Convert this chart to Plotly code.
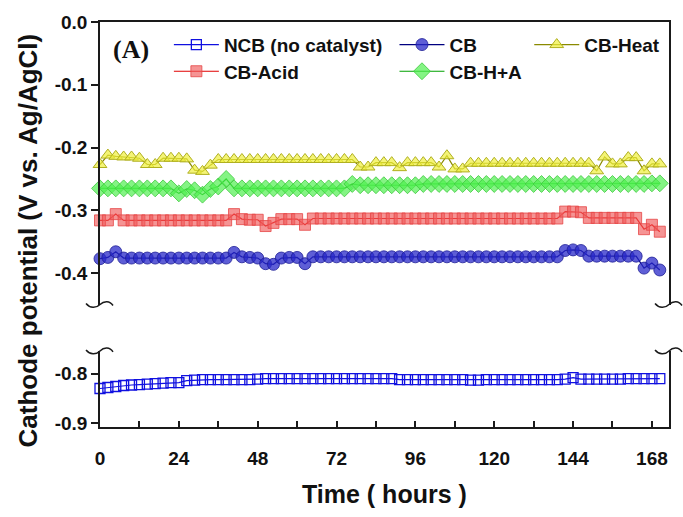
import plotly.graph_objects as go

# ---------------- data ----------------
time_h = [0, 2.4, 4.8, 7.2, 9.6, 12, 14.4, 16.8, 19.2, 21.6,
          24, 26.4, 28.8, 31.2, 33.6, 36, 38.4, 40.8, 43.2, 45.6,
          48, 50.4, 52.8, 55.2, 57.6, 60, 62.4, 64.8, 67.2, 69.6,
          72, 74.4, 76.8, 79.2, 81.6, 84, 86.4, 88.8, 91.2, 93.6,
          96, 98.4, 100.8, 103.2, 105.6, 108, 110.4, 112.8, 115.2, 117.6,
          120, 122.4, 124.8, 127.2, 129.6, 132, 134.4, 136.8, 139.2, 141.6,
          144, 146.4, 148.8, 151.2, 153.6, 156, 158.4, 160.8, 163.2, 165.6,
          168, 170.4]

ncb = [-0.830, -0.828, -0.826, -0.824, -0.823, -0.822, -0.821, -0.820, -0.819, -0.818,
       -0.818, -0.814, -0.813, -0.812, -0.812, -0.812, -0.812, -0.812, -0.812, -0.812,
       -0.811, -0.810, -0.810, -0.810, -0.810, -0.810, -0.810, -0.810, -0.810, -0.810,
       -0.810, -0.810, -0.810, -0.810, -0.810, -0.810, -0.810, -0.810, -0.812, -0.812,
       -0.812, -0.812, -0.812, -0.812, -0.812, -0.812, -0.812, -0.813, -0.813, -0.812,
       -0.812, -0.812, -0.812, -0.812, -0.812, -0.812, -0.812, -0.812, -0.812, -0.811,
       -0.808, -0.811, -0.811, -0.811, -0.811, -0.811, -0.811, -0.810, -0.810, -0.810,
       -0.810, -0.810]

cb = [-0.377, -0.375, -0.366, -0.376, -0.376, -0.376, -0.376, -0.376, -0.376, -0.376,
      -0.376, -0.376, -0.376, -0.376, -0.376, -0.376, -0.376, -0.367, -0.374, -0.375,
      -0.376, -0.385, -0.386, -0.376, -0.375, -0.375, -0.385, -0.374, -0.374, -0.374,
      -0.374, -0.374, -0.374, -0.374, -0.374, -0.374, -0.374, -0.374, -0.374, -0.374,
      -0.374, -0.374, -0.374, -0.374, -0.374, -0.374, -0.374, -0.374, -0.374, -0.374,
      -0.374, -0.374, -0.374, -0.374, -0.374, -0.374, -0.374, -0.374, -0.374, -0.364,
      -0.363, -0.364, -0.373, -0.373, -0.373, -0.373, -0.373, -0.373, -0.373, -0.392,
      -0.384, -0.395]

cb_heat = [-0.227, -0.212, -0.214, -0.215, -0.215, -0.217, -0.227, -0.227, -0.217, -0.217,
           -0.217, -0.218, -0.236, -0.238, -0.228, -0.219, -0.219, -0.219, -0.219, -0.219,
           -0.219, -0.219, -0.219, -0.219, -0.219, -0.219, -0.219, -0.219, -0.219, -0.219,
           -0.219, -0.219, -0.219, -0.231, -0.231, -0.224, -0.224, -0.224, -0.232, -0.224,
           -0.224, -0.224, -0.224, -0.231, -0.213, -0.234, -0.234, -0.225, -0.225, -0.225,
           -0.225, -0.225, -0.225, -0.225, -0.225, -0.225, -0.225, -0.225, -0.225, -0.225,
           -0.225, -0.225, -0.225, -0.237, -0.215, -0.226, -0.226, -0.216, -0.216, -0.237,
           -0.226, -0.226]

cb_acid = [-0.316, -0.316, -0.306, -0.316, -0.316, -0.316, -0.316, -0.316, -0.316, -0.316,
           -0.316, -0.316, -0.316, -0.316, -0.316, -0.316, -0.316, -0.306, -0.314, -0.315,
           -0.315, -0.325, -0.320, -0.314, -0.314, -0.314, -0.323, -0.313, -0.313, -0.313,
           -0.313, -0.313, -0.313, -0.313, -0.313, -0.313, -0.313, -0.313, -0.313, -0.313,
           -0.313, -0.313, -0.313, -0.313, -0.313, -0.313, -0.313, -0.313, -0.313, -0.313,
           -0.313, -0.313, -0.313, -0.313, -0.313, -0.313, -0.313, -0.313, -0.313, -0.302,
           -0.302, -0.303, -0.312, -0.312, -0.312, -0.312, -0.312, -0.312, -0.312, -0.330,
           -0.323, -0.334]

cb_ha = [-0.265, -0.265, -0.265, -0.265, -0.265, -0.265, -0.265, -0.265, -0.265, -0.265,
         -0.273, -0.266, -0.268, -0.275, -0.266, -0.262, -0.250, -0.265, -0.265, -0.265,
         -0.265, -0.265, -0.265, -0.265, -0.265, -0.265, -0.265, -0.265, -0.265, -0.265,
         -0.265, -0.265, -0.258, -0.260, -0.260, -0.260, -0.260, -0.260, -0.260, -0.260,
         -0.260, -0.258, -0.258, -0.258, -0.258, -0.258, -0.258, -0.258, -0.258, -0.258,
         -0.258, -0.258, -0.258, -0.258, -0.258, -0.258, -0.258, -0.258, -0.258, -0.258,
         -0.258, -0.258, -0.258, -0.258, -0.258, -0.258, -0.258, -0.258, -0.258, -0.258,
         -0.257, -0.257]

x_tickvals = [0, 24, 48, 72, 96, 120, 144, 168]
x_ticktext = ["0", "24", "48", "72", "96", "120", "144", "168"]
top_tickvals = [0.0, -0.1, -0.2, -0.3, -0.4]
top_ticktext = ["0.0", "-0.1", "-0.2", "-0.3", "-0.4"]
bot_tickvals = [-0.8, -0.9]
bot_ticktext = ["-0.8", "-0.9"]

# ---------------- layout geometry ----------------
W, H = 683, 517
L, R, T, B = 100, 13, 17, 90
PW = W - L - R
PH = H - T - B


def px_x(px):
    return (px - L) / PW


def px_y(py):
    return (H - B - py) / PH


FONT = "Liberation Sans, Arial, sans-serif"
AX = "#1a1a1a"

fig = go.Figure()

fig.add_trace(go.Scatter(
    x=time_h, y=ncb, name="NCB (no catalyst)", xaxis="x", yaxis="y",
    mode="lines+markers", cliponaxis=False, legend="legend",
    line=dict(color="#1010e0", width=1.2),
    marker=dict(symbol="square-open", size=10, color="#1010e0", line=dict(width=1.3))))

fig.add_trace(go.Scatter(
    x=time_h, y=cb, name="CB", xaxis="x2", yaxis="y2",
    mode="lines+markers", cliponaxis=False, legend="legend2",
    line=dict(color="#000080", width=1.2),
    marker=dict(symbol="circle", size=12, color="rgba(40,40,200,0.75)",
                line=dict(color="rgba(30,30,150,0.8)", width=1))))

fig.add_trace(go.Scatter(
    x=time_h, y=cb_heat, name="CB-Heat", xaxis="x2", yaxis="y2",
    mode="lines+markers", cliponaxis=False, legend="legend3",
    line=dict(color="#8a8a00", width=1.2),
    marker=dict(symbol="triangle-up", size=12, color="rgba(240,240,60,0.7)",
                line=dict(color="#b0b020", width=1))))

fig.add_trace(go.Scatter(
    x=time_h, y=cb_acid, name="CB-Acid", xaxis="x2", yaxis="y2",
    mode="lines+markers", cliponaxis=False, legend="legend4",
    line=dict(color="#e00000", width=1.2),
    marker=dict(symbol="square", size=11, color="rgba(240,90,90,0.65)",
                line=dict(color="rgba(230,70,70,0.8)", width=1))))

fig.add_trace(go.Scatter(
    x=time_h, y=cb_ha, name="CB-H+A", xaxis="x2", yaxis="y2",
    mode="lines+markers", cliponaxis=False, legend="legend5",
    line=dict(color="#00a000", width=1.2),
    marker=dict(symbol="diamond", size=13, color="rgba(80,240,80,0.7)",
                line=dict(color="rgba(60,200,60,0.8)", width=1))))

tickfont = dict(family=FONT, size=19, color="#111", weight="bold")

xr = [0, 173.2]
top_dom = [px_y(303), 1.0]
bot_dom = [0.0, px_y(350)]

fig.update_layout(
    width=W, height=H,
    margin=dict(l=L, r=R, t=T, b=B, pad=0),
    paper_bgcolor="white", plot_bgcolor="white",
    font=dict(family=FONT, color="#111"),
    xaxis=dict(domain=[0, 1], range=xr, anchor="y", showline=True, linecolor=AX, linewidth=1.6,
               mirror=False, showgrid=False, zeroline=False,
               tickvals=x_tickvals, ticktext=x_ticktext, ticks="inside", ticklen=6,
               tickwidth=1.5, tickcolor=AX, tickfont=tickfont, ticklabelstandoff=13,
               minor=dict(ticks="inside", tickvals=[12, 36, 60, 84, 108, 132, 156],
                          ticklen=6, tickwidth=1.5, tickcolor=AX)),
    xaxis2=dict(domain=[0, 1], range=xr, anchor="y2", matches="x", side="top",
                showline=True, linecolor=AX, linewidth=1.6, mirror=False,
                showgrid=False, zeroline=False, showticklabels=False, ticks=""),
    yaxis=dict(domain=bot_dom, range=[-0.908, -0.754], anchor="x", showline=True,
               linecolor=AX, linewidth=1.6, mirror=True, showgrid=False, zeroline=False,
               tickvals=bot_tickvals, ticktext=bot_ticktext, ticks="outside", ticklen=7,
               tickwidth=1.5, tickcolor=AX, tickfont=tickfont),
    yaxis2=dict(domain=top_dom, range=[-0.45, 0.0], anchor="x2", showline=True,
                linecolor=AX, linewidth=1.6, mirror=True, showgrid=False, zeroline=False,
                tickvals=top_tickvals, ticktext=top_ticktext, ticks="outside", ticklen=7,
                tickwidth=1.5, tickcolor=AX, tickfont=tickfont),
    showlegend=True,
)

legfont = dict(family=FONT, size=19, color="#111", weight="bold")
leg_pos = {
    "legend": (169, 40),
    "legend4": (169, 67),
    "legend2": (395, 40),
    "legend5": (395, 67),
    "legend3": (530, 40),
}
for key, (lx, ly) in leg_pos.items():
    fig.update_layout({key: dict(x=px_x(lx), y=px_y(ly), xanchor="left", yanchor="middle",
                                 bgcolor="rgba(0,0,0,0)", borderwidth=0, font=legfont,
                                 itemwidth=45)})

# annotations: panel label and axis titles
fig.add_annotation(text="(A)", xref="paper", yref="paper", x=px_x(131), y=px_y(45),
                   showarrow=False, xanchor="center", yanchor="middle",
                   font=dict(family="Liberation Serif, Times New Roman, serif", size=26,
                             color="#111", weight="bold"))
fig.add_annotation(text="Time ( hours )", xref="paper", yref="paper", x=px_x(385), y=px_y(495),
                   showarrow=False, xanchor="center", yanchor="middle",
                   font=dict(family=FONT, size=25, color="#111", weight="bold"))
fig.add_annotation(text="Cathode potential (V vs. Ag/AgCl)", xref="paper", yref="paper",
                   x=px_x(28), y=px_y(238), textangle=-90, showarrow=False,
                   xanchor="center", yanchor="middle",
                   font=dict(family=FONT, size=26, color="#111", weight="bold"))


# axis-break marks ("~") on both vertical axes
def brk(cx, cy):
    pts = [(-14, -1), (-10, 4), (-4, 4), (0, 0), (4, -4), (10, -4), (13, 1)]
    p = [(px_x(cx + dx), px_y(cy + dy)) for dx, dy in pts]
    return ("M{:.5f},{:.5f} C{:.5f},{:.5f} {:.5f},{:.5f} {:.5f},{:.5f} "
            "C{:.5f},{:.5f} {:.5f},{:.5f} {:.5f},{:.5f}").format(*[v for xy in p for v in xy])


for cx in (100, 670):
    for cy in (303, 350):
        fig.add_shape(type="path", path=brk(cx, cy), xref="paper", yref="paper",
                      line=dict(color=AX, width=1.5))

fig.write_html("out.html")
